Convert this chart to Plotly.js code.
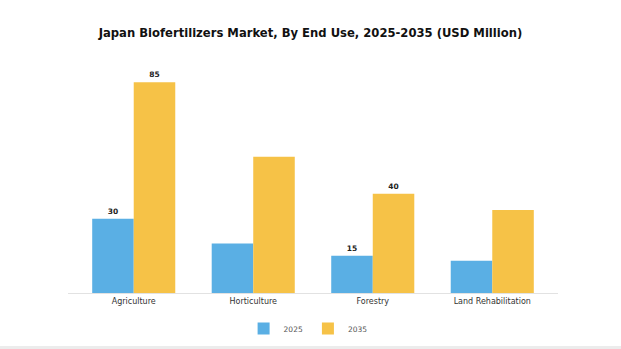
<!DOCTYPE html>
<html>
<head>
<meta charset="utf-8">
<script src="https://cdn.plot.ly/plotly-3.0.1.min.js"></script>
<style>html,body{margin:0;padding:0;background:#fff;}#chart{width:621px;height:349px;}</style>
</head>
<body>
<div id="chart"></div>
<script>
const categories = ["Agriculture", "Horticulture", "Forestry", "Land Rehabilitation"];
const values2025 = [30, 20, 15, 13];
const values2035 = [85, 55, 40, 33.5];
const labels2025 = ["30", "", "15", ""];
const labels2035 = ["85", "", "40", ""];
const seriesNames = ["2025", "2035"];

const labelFont = {family: "DejaVu Sans", size: 7.5, color: "#222", weight: "bold"};

const traces = [
  {
    type: "bar", name: seriesNames[0], x: categories, y: values2025,
    text: labels2025, textposition: "outside", textfont: labelFont,
    marker: {color: "#5aafe4"}, cliponaxis: false, hoverinfo: "skip"
  },
  {
    type: "bar", name: seriesNames[1], x: categories, y: values2035,
    text: labels2035, textposition: "outside", textfont: labelFont,
    marker: {color: "#f6c247"}, cliponaxis: false, hoverinfo: "skip"
  }
];

const layout = {
  width: 621, height: 349,
  margin: {l: 68, r: 63, t: 60, b: 56, autoexpand: false},
  paper_bgcolor: "#ffffff", plot_bgcolor: "#ffffff",
  title: {
    text: "<b>Japan Biofertilizers Market, By End Use, 2025-2035 (USD Million)</b>",
    font: {family: "DejaVu Sans", size: 11.6, color: "#111"},
    x: 0.5, xanchor: "center", y: 0.905, yanchor: "middle"
  },
  barmode: "group", bargap: 0.305, bargroupgap: 0,
  xaxis: {
    type: "category", range: [-0.55, 3.55],
    showline: true, linecolor: "#e2e2e2", linewidth: 1,
    ticks: "", showgrid: false,
    tickfont: {family: "DejaVu Sans", size: 8, color: "#333"}
  },
  yaxis: {
    range: [0, 94], visible: false, showgrid: false, zeroline: false
  },
  showlegend: true,
  legend: {
    orientation: "h", x: 0.49, xanchor: "center",
    yref: "container", y: 0.1, yanchor: "top",
    font: {family: "DejaVu Sans", size: 7.5, color: "#555"},
    itemwidth: 30
  },
  shapes: [
    {type: "rect", xref: "paper", yref: "paper", x0: -0.2, x1: 1.2,
     y0: -0.227, y1: -0.245, fillcolor: "#ececec", line: {width: 0}, layer: "above"}
  ]
};

Plotly.newPlot("chart", traces, layout, {staticPlot: true, displayModeBar: false});
</script>
</body>
</html>
